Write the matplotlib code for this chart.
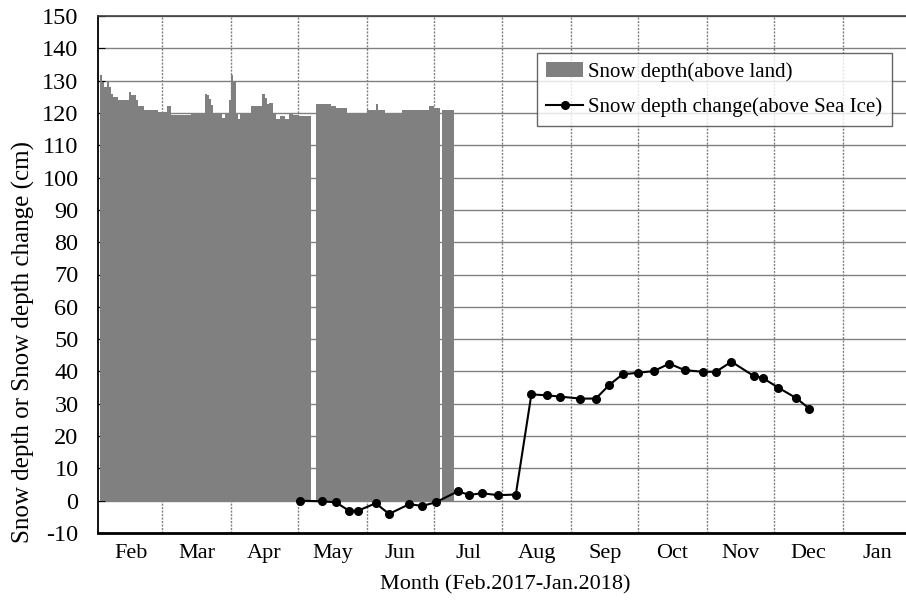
import numpy as np
import matplotlib
matplotlib.use("Agg")
import matplotlib.pyplot as plt

plt.rcParams['font.family'] = ['Liberation Serif', 'DejaVu Serif']
plt.rcParams['axes.unicode_minus'] = False

# Months Feb.2017 - Jan.2018, day index counted from Feb 1
months = ['Feb', 'Mar', 'Apr', 'May', 'Jun', 'Jul', 'Aug', 'Sep', 'Oct', 'Nov', 'Dec', 'Jan']
month_days = [28, 31, 30, 31, 30, 31, 31, 30, 31, 30, 31, 31]

# Daily snow depth above land (cm), day 0 = Feb 1; nan = no data
snow_land = [
    131.7, 129.7, 128, 129.7, 128, 126, 125, 125, 124, 124,
    124, 124, 124, 126.6, 125.6, 125.6, 124, 122, 122, 122,
    121, 121, 121, 121, 121, 121, 120.3, 120.3, 120.3, 120.3,
    122, 122, 119.5, 119.5, 119.5, 119.5, 119.5, 119.5, 119.5, 119.5,
    119.5, 120, 120, 120, 120, 120, 120, 126, 125.5, 124.3,
    122.5, 119.8, 119.8, 119.8, 119.8, 118.5, 120, 120, 124, 131.7,
    130, 120, 118, 120, 120, 120, 120, 120, 122, 122,
    122, 122, 122, 126, 124.6, 122.8, 123, 123, 120, 118,
    118, 119, 119, 118, 118, 120, 120, 119.5, 119.5, 119.2,
    119.2, 119.2, 119.2, 119.2, 119.2, np.nan, np.nan, 122.8, 122.8, 122.8,
    122.8, 122.8, 122.8, 122.8, 122, 122, 121.5, 121.5, 121.5, 121.5,
    121.5, 120, 120, 120, 120, 120, 120, 120, 120, 120,
    120.8, 120.8, 120.8, 120.8, 122.8, 120.8, 120.8, 120.8, 120, 120,
    120, 120, 120, 120, 120, 120, 120.8, 120.8, 120.8, 120.8,
    120.8, 120.8, 120.8, 120.8, 120.8, 120.8, 120.8, 120.8, 122, 122,
    121.5, 121.5, 121.5, np.nan, 120.8, 120.8, 120.8, 120.8, 120.8,
]

# Snow depth change above sea ice (cm)
ice_days = [90, 100, 106, 112, 116, 124, 130, 139, 145, 151, 161, 166, 172, 179, 187,
            194, 201, 207, 216, 223, 229, 235, 242, 249, 256, 263, 271, 277, 284, 294,
            298, 305, 313, 319]
ice_change = [0, -0.2, -0.5, -3.1, -3.1, -0.8, -4.1, -1.1, -1.6, -0.5, 2.9, 1.8, 2.3, 1.7, 1.9,
              32.9, 32.6, 32.2, 31.6, 31.6, 35.8, 39.1, 39.6, 40.1, 42.4, 40.4, 39.9, 39.9, 43.0, 38.6,
              38.0, 35.0, 31.8, 28.5]

fig = plt.figure(figsize=(9.06, 6.03), dpi=100)
ax = fig.add_axes([98 / 906, 70 / 603, 813.6 / 906, 517 / 603])

days = np.arange(len(snow_land))
bars = ax.bar(days + 0.5, snow_land, width=1.0, color='#808080', linewidth=0,
              label='Snow depth(above land)', zorder=3)
line, = ax.plot(ice_days, ice_change, color='black', lw=1.5, marker='o', markersize=5.5,
                label='Snow depth change(above Sea Ice)', zorder=4)

bounds = np.cumsum([0] + month_days)
centers = (bounds[:-1] + bounds[1:]) / 2

ax.set_xlim(-0.9, 365)
ax.set_ylim(-10, 150)
ax.set_yticks(np.arange(-10, 151, 10))
ax.set_xticks(bounds[1:-1])
ax.set_xticklabels([])
ax.set_xticks(centers, minor=True)
ax.set_xticklabels(months, minor=True)
ax.tick_params(axis='x', which='both', length=0, labelsize=16, pad=8)
ax.tick_params(axis='y', direction='in', length=5, labelsize=17.5, pad=14)

ax.grid(axis='y', color='#808080', lw=1, zorder=1)
ax.grid(axis='x', which='major', color='#808080', lw=1, linestyle=(0, (1.5, 1)), zorder=1)

for s in ['left', 'bottom']:
    ax.spines[s].set_color('black')
ax.spines['left'].set_linewidth(1.3)
ax.spines['bottom'].set_linewidth(2)
ax.spines['top'].set_color('#404040')
ax.spines['top'].set_linewidth(1.2)
ax.spines['right'].set_visible(False)

ax.set_xlabel('Month (Feb.2017-Jan.2018)', fontsize=16, labelpad=9)
ax.set_ylabel('Snow depth or Snow depth change (cm)', fontsize=18)
ax.yaxis.set_label_coords(-0.078, 0.37)

leg = ax.legend([bars, line], ['Snow depth(above land)', 'Snow depth change(above Sea Ice)'],
                loc='upper left', bbox_to_anchor=(537 / 906, 1 - 52.5 / 603),
                bbox_transform=fig.transFigure, fontsize=15, frameon=True,
                fancybox=False, edgecolor='#404040', handlelength=1.75,
                borderpad=0.45, borderaxespad=0, labelspacing=0.75, handletextpad=0.25)
leg.get_frame().set_linewidth(1)
leg.set_zorder(10)

fig.savefig('out.png', dpi=100)
